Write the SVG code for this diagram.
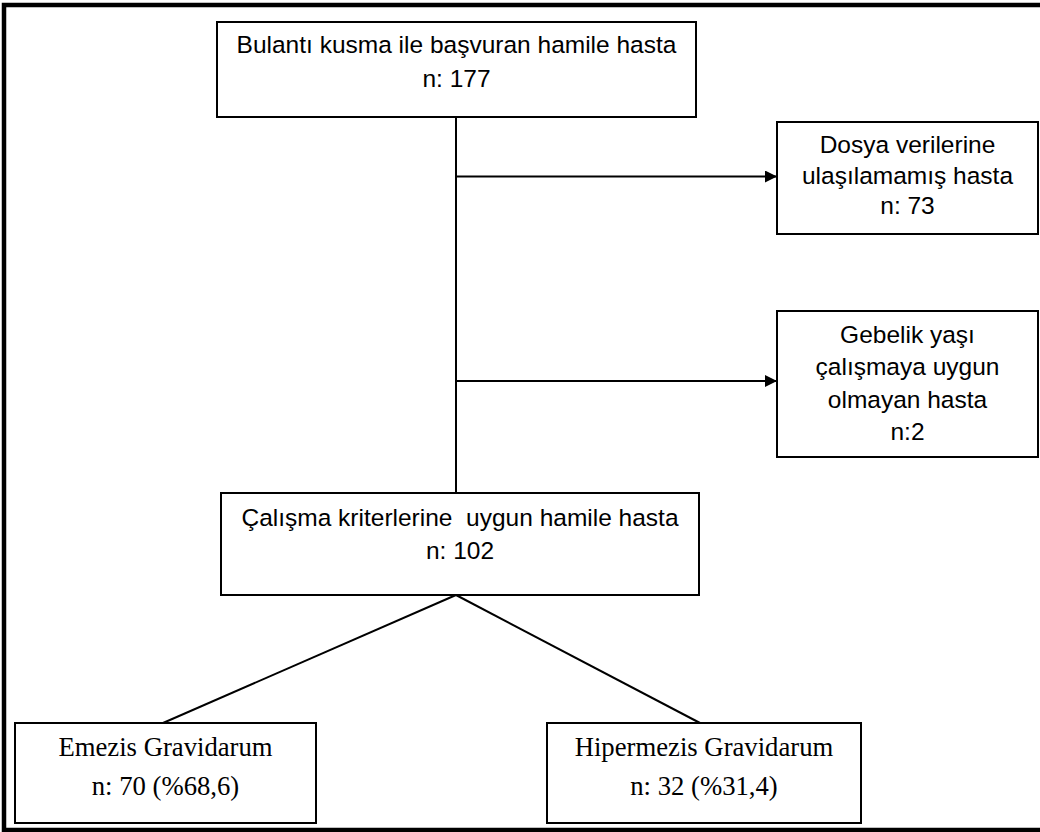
<svg xmlns="http://www.w3.org/2000/svg" width="1040" height="832" viewBox="0 0 1040 832">
  <defs>
    <style>
      .box { fill: #ffffff; stroke: #000000; stroke-width: 2; }
      .sans { font-family: "Liberation Sans", Arial, sans-serif; font-size: 24.5px; fill: #000000; text-anchor: middle; }
      .serif { font-family: "Liberation Serif", "Times New Roman", serif; font-size: 26.7px; fill: #000000; text-anchor: middle; }
      .conn { fill: none; stroke: #000000; stroke-width: 2; }
      .frame { fill: none; stroke: #000000; stroke-width: 4.5; }
    </style>
    <marker id="arrow" viewBox="0 0 12 12" refX="12" refY="6" markerWidth="12" markerHeight="12" markerUnits="userSpaceOnUse" orient="auto">
      <path d="M0,0 L12,6 L0,12 Z" fill="#000000"/>
    </marker>
  </defs>
  <rect width="1040" height="832" fill="#ffffff"/>
  <path class="frame" d="M1040,5 L4,5 L4,830 L1040,830"/>

  <g id="connectors">
    <line class="conn" x1="456" y1="117" x2="456" y2="493"/>
    <line class="conn" x1="456" y1="176.5" x2="777" y2="176.5" marker-end="url(#arrow)"/>
    <line class="conn" x1="456" y1="381" x2="777" y2="381" marker-end="url(#arrow)"/>
    <line class="conn" x1="456" y1="595" x2="163" y2="723"/>
    <line class="conn" x1="456" y1="595" x2="700" y2="723"/>
  </g>

  <g id="node-basvuran">
    <rect class="box" x="217" y="22" width="479" height="95"/>
    <text class="sans" x="456.5" y="53">Bulantı kusma ile başvuran hamile hasta</text>
    <text class="sans" x="456.5" y="87">n: 177</text>
  </g>

  <g id="node-dosya">
    <rect class="box" x="777" y="122" width="261" height="112"/>
    <text class="sans" x="907.5" y="153">Dosya verilerine</text>
    <text class="sans" x="907.5" y="184">ulaşılamamış hasta</text>
    <text class="sans" x="907.5" y="214">n: 73</text>
  </g>

  <g id="node-gebelik">
    <rect class="box" x="777" y="311" width="261" height="146"/>
    <text class="sans" x="907.5" y="343">Gebelik yaşı</text>
    <text class="sans" x="907.5" y="375">çalışmaya uygun</text>
    <text class="sans" x="907.5" y="408">olmayan hasta</text>
    <text class="sans" x="907.5" y="440">n:2</text>
  </g>

  <g id="node-calisma">
    <rect class="box" x="221" y="493" width="478" height="102"/>
    <text class="sans" x="460" y="526" style="white-space:pre">Çalışma kriterlerine  uygun hamile hasta</text>
    <text class="sans" x="460" y="559">n: 102</text>
  </g>

  <g id="node-emezis">
    <rect class="box" x="15" y="723" width="301" height="100"/>
    <text class="serif" x="165.5" y="756">Emezis Gravidarum</text>
    <text class="serif" x="165.5" y="795">n: 70 (%68,6)</text>
  </g>

  <g id="node-hipermezis">
    <rect class="box" x="547" y="723" width="314" height="100"/>
    <text class="serif" x="704" y="756">Hipermezis Gravidarum</text>
    <text class="serif" x="704" y="795">n: 32 (%31,4)</text>
  </g>
</svg>
